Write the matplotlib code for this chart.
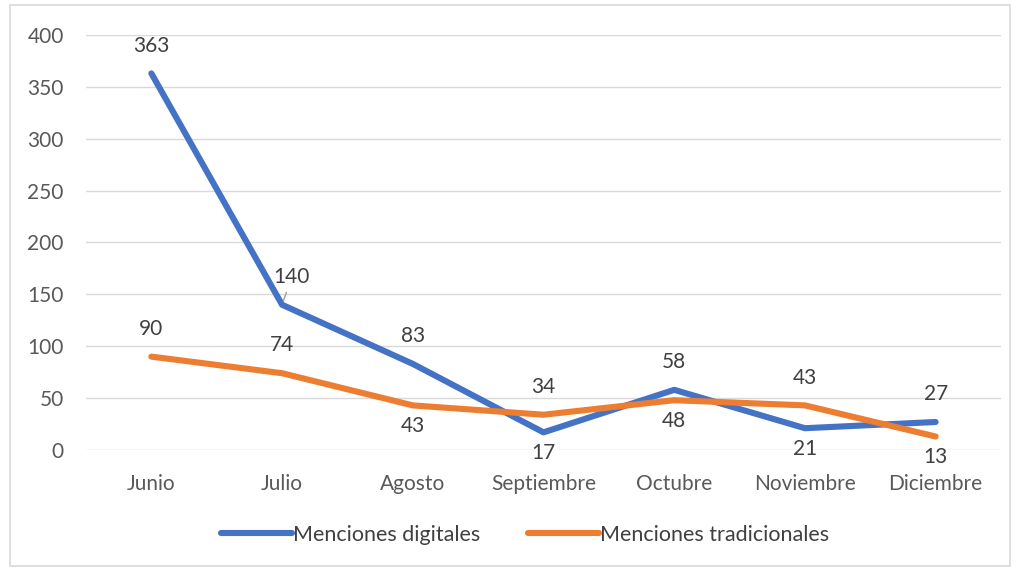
import matplotlib
matplotlib.use("Agg")
import matplotlib.pyplot as plt
from matplotlib.patches import Rectangle

months = ["Junio", "Julio", "Agosto", "Septiembre", "Octubre", "Noviembre", "Diciembre"]
digitales = [363, 140, 83, 17, 58, 21, 27]
tradicionales = [90, 74, 43, 34, 48, 43, 13]
yticks = [0, 50, 100, 150, 200, 250, 300, 350, 400]

plt.rcParams['font.family'] = ['Lato', 'DejaVu Sans']

fig = plt.figure(figsize=(10.21, 5.71), dpi=100)
fig.patches.append(Rectangle((10/1021, 1-566/571), 1000/1021, 561/571, transform=fig.transFigure,
                             fill=False, edgecolor="#d9d9d9", linewidth=1.2))
ax = fig.add_axes([86/1021, 1-450/571, 915/1021, 415/571])

x = list(range(len(months)))
blue = "#4472C4"
orange = "#ED7D31"
ax.plot(x, digitales, color=blue, lw=4.4, solid_capstyle="round", solid_joinstyle="round",
        label="Menciones digitales", zorder=3)
ax.plot(x, tradicionales, color=orange, lw=4.4, solid_capstyle="round", solid_joinstyle="round",
        label="Menciones tradicionales", zorder=3)

ax.set_xlim(-0.5, len(months) - 0.5)
ax.set_ylim(0, 400)
ax.set_yticks(yticks)
ax.set_xticks(x)
ax.set_xticklabels(months)
ax.grid(axis="y", color="#d9d9d9", lw=1.0)
ax.set_axisbelow(True)
for s in ax.spines.values():
    s.set_visible(False)
ax.tick_params(axis="both", length=0, labelsize=15, colors="#595959")
ax.tick_params(axis="x", pad=17)
ax.tick_params(axis="y", pad=16)

lblcolor = "#404040"
dig_pos = ["above", "above", "above", "below", "above", "below", "above"]
tra_pos = ["above", "above", "below", "above", "below", "above", "below"]

def label(xi, v, pos, dx=0, arrow=False):
    dy = 20 if pos == "above" else -15
    kw = {}
    if arrow:
        kw["arrowprops"] = dict(arrowstyle="-", color="#a0a0a0", lw=1, shrinkA=2, shrinkB=3)
    ax.annotate(str(v), (xi, v), xytext=(dx, dy), textcoords="offset points",
                ha="center", va="center", fontsize=15, color=lblcolor, zorder=4, **kw)

for i, (v, p) in enumerate(zip(digitales, dig_pos)):
    if i == 1:
        label(i, v, p, dx=7, arrow=True)
    else:
        label(i, v, p)
for i, (v, p) in enumerate(zip(tradicionales, tra_pos)):
    label(i, v, p)

leg = fig.legend(loc="center", bbox_to_anchor=(525/1021, 1-535/571), ncol=2, frameon=False,
                 fontsize=15.5, labelcolor="#404040", handlelength=3.3, handletextpad=0.05,
                 columnspacing=2.2)

fig.savefig("out.png", dpi=100)
